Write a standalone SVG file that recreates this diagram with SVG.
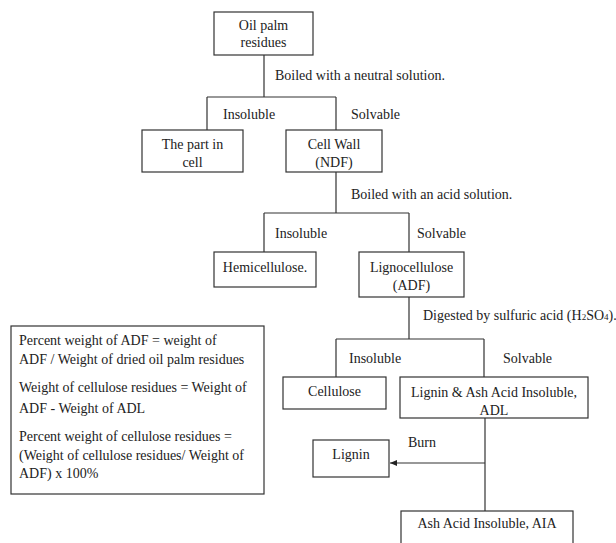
<svg xmlns="http://www.w3.org/2000/svg" width="616" height="543" viewBox="0 0 616 543">
<style>
.c{text-anchor:middle}
.bx{fill:#fff;stroke:#333;stroke-width:1.2}
.ln{fill:none;stroke:#333;stroke-width:1.2}
</style>
<defs>
<marker id="ah" markerWidth="8" markerHeight="8" refX="7" refY="4" orient="auto" markerUnits="userSpaceOnUse">
<path d="M0,1 L7,4 L0,7 Z" fill="#222"/>
</marker>
</defs>
<rect x="0" y="0" width="616" height="543" fill="#fff"/>
<g font-family="Liberation Serif, Times New Roman, serif" font-size="14" fill="#222">
<g id="connectors">
<path class="ln" d="M264,55 V97 M207,97 H336 M207,97 V130 M336,97 V130"/>
<path class="ln" d="M336,172 V213 M264,213 H409 M264,213 V252 M409,213 V252"/>
<path class="ln" d="M409,297 V339 M336,339 H484 M336,339 V377 M484,339 V377"/>
<path class="ln" d="M485,418 V511"/>
<path class="ln" d="M485,463 H390" marker-end="url(#ah)"/>
<text x="275" y="80">Boiled with a neutral solution.</text>
<text x="223" y="119">Insoluble</text>
<text x="351" y="119">Solvable</text>
<text x="351" y="199">Boiled with an acid solution.</text>
<text x="275" y="238">Insoluble</text>
<text x="417" y="238">Solvable</text>
<text x="423" y="320">Digested by sulfuric acid (H<tspan font-size="9">2</tspan>SO<tspan font-size="9">4</tspan>).</text>
<text x="349" y="363">Insoluble</text>
<text x="503" y="363">Solvable</text>
<text x="408" y="447">Burn</text>
</g>
<g id="oil">
<rect class="bx" x="214" y="12" width="99" height="43"/>
<text class="c" x="263.5" y="30">Oil palm</text>
<text class="c" x="263.5" y="47">residues</text>
</g>
<g id="partcell">
<rect class="bx" x="142" y="130" width="101" height="42"/>
<text class="c" x="192.5" y="149">The part in</text>
<text class="c" x="192.5" y="167">cell</text>
</g>
<g id="cellwall">
<rect class="bx" x="286" y="130" width="96" height="42"/>
<text class="c" x="334" y="149">Cell Wall</text>
<text class="c" x="334" y="167">(NDF)</text>
</g>
<g id="hemi">
<rect class="bx" x="214" y="252" width="102" height="35"/>
<text class="c" x="265" y="272">Hemicellulose.</text>
</g>
<g id="ligno">
<rect class="bx" x="359" y="252" width="105" height="45"/>
<text class="c" x="411.5" y="272">Lignocellulose</text>
<text class="c" x="411.5" y="290">(ADF)</text>
</g>
<g id="formula">
<rect class="bx" x="11" y="326" width="253" height="168"/>
<text x="19" y="345">Percent weight of ADF = weight of</text>
<text x="19" y="364">ADF / Weight of dried oil palm residues</text>
<text x="19" y="392">Weight of cellulose residues = Weight of</text>
<text x="19" y="413">ADF - Weight of ADL</text>
<text x="19" y="441">Percent weight of cellulose residues =</text>
<text x="19" y="460">(Weight of cellulose residues/ Weight of</text>
<text x="19" y="478">ADF) x 100%</text>
</g>
<g id="cellulose">
<rect class="bx" x="283" y="377" width="103" height="32"/>
<text class="c" x="334.5" y="396">Cellulose</text>
</g>
<g id="adl">
<rect class="bx" x="400" y="377" width="188" height="41"/>
<text class="c" x="494" y="397">Lignin &amp; Ash Acid Insoluble,</text>
<text class="c" x="494" y="415">ADL</text>
</g>
<g id="lignin">
<rect class="bx" x="313" y="440" width="76" height="37"/>
<text class="c" x="351" y="459">Lignin</text>
</g>
<g id="aia">
<rect class="bx" x="401" y="511" width="172" height="40"/>
<text class="c" x="487" y="528">Ash Acid Insoluble,  AIA</text>
</g>
</g>
</svg>
